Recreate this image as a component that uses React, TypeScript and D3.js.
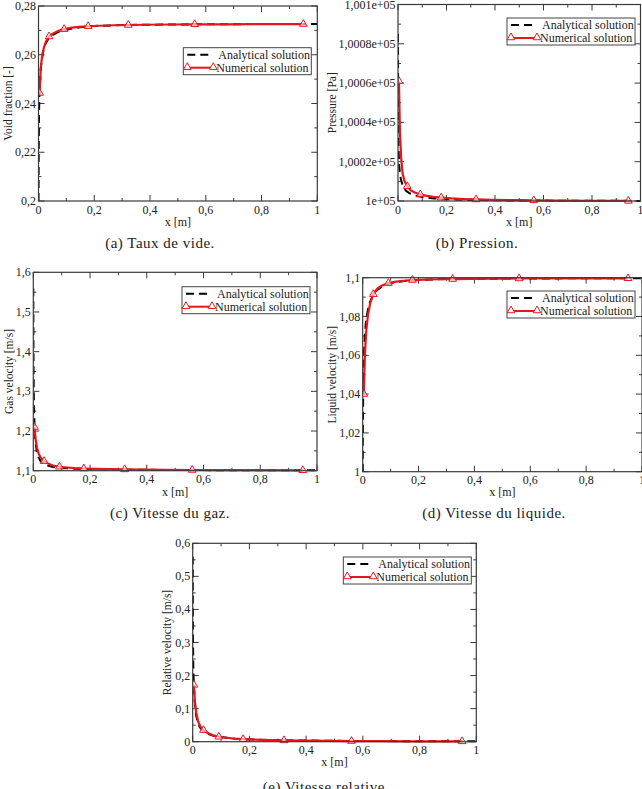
import React from 'react';
import * as d3 from 'd3';

// ---------- DATA ----------
const anaX = [0, 0.0005, 0.001, 0.002, 0.003, 0.005, 0.008, 0.012, 0.018, 0.025, 0.035, 0.05, 0.07, 0.1, 0.15, 0.2, 0.3, 0.45, 0.6, 0.8, 1.0];
const numX = [0.004, 0.008, 0.013, 0.019, 0.027, 0.038, 0.052, 0.069, 0.092, 0.12, 0.145, 0.178, 0.22, 0.27, 0.322, 0.39, 0.47, 0.56, 0.66, 0.78, 0.95];
const markerIdx = [0, 5, 8, 11, 14, 17, 20];

const voidAna = [0.2, 0.215, 0.224, 0.236, 0.242, 0.248, 0.254, 0.258, 0.262, 0.2645, 0.2665, 0.268, 0.2693, 0.2703, 0.2713, 0.2718, 0.2722, 0.2724, 0.2725, 0.2726, 0.2726];
const voidNum = [0.2443, 0.2545, 0.2595, 0.2628, 0.2655, 0.2675, 0.2687, 0.2697, 0.2705, 0.2711, 0.2714, 0.2717, 0.2719, 0.2721, 0.2722, 0.2723, 0.2724, 0.2725, 0.2725, 0.2726, 0.2726];

const presAna = [100085, 100055, 100042, 100030, 100024, 100018, 100014, 100011, 100008.5, 100006.5, 100005, 100003.8, 100002.8, 100002, 100001.3, 100000.9, 100000.5, 100000.3, 100000.2, 100000.1, 100000.05];
const presNum = [100061, 100035, 100022, 100014, 100010, 100007.5, 100005.5, 100004.3, 100003.3, 100002.6, 100002.1, 100001.7, 100001.3, 100001.0, 100000.8, 100000.6, 100000.4, 100000.3, 100000.2, 100000.1, 100000.05];

const gasAna = [1.56, 1.42, 1.35, 1.28, 1.245, 1.2, 1.17, 1.15, 1.135, 1.125, 1.118, 1.113, 1.109, 1.107, 1.105, 1.104, 1.1025, 1.102, 1.1015, 1.101, 1.101];
const gasNum = [1.21, 1.18, 1.158, 1.143, 1.132, 1.124, 1.118, 1.113, 1.11, 1.108, 1.1065, 1.1055, 1.1045, 1.1038, 1.1032, 1.1027, 1.1022, 1.1018, 1.1015, 1.1013, 1.101];

const liqAna = [1.0, 1.018, 1.028, 1.042, 1.052, 1.062, 1.071, 1.078, 1.083, 1.087, 1.0905, 1.0935, 1.0955, 1.0972, 1.0983, 1.0988, 1.0993, 1.0995, 1.0996, 1.0997, 1.0997];
const liqNum = [1.04, 1.061, 1.073, 1.081, 1.087, 1.0915, 1.0943, 1.096, 1.0972, 1.098, 1.0984, 1.0988, 1.099, 1.0992, 1.0993, 1.0994, 1.0995, 1.0996, 1.0996, 1.0997, 1.0997];

const relAna = [0.56, 0.4, 0.32, 0.24, 0.2, 0.15, 0.11, 0.08, 0.058, 0.044, 0.034, 0.025, 0.019, 0.014, 0.009, 0.007, 0.0045, 0.003, 0.002, 0.0015, 0.001];
const relNum = [0.172, 0.12, 0.085, 0.062, 0.046, 0.035, 0.027, 0.02, 0.015, 0.012, 0.0095, 0.0075, 0.006, 0.0048, 0.004, 0.0032, 0.0025, 0.002, 0.0016, 0.0012, 0.001];

const xTicks = [0, 0.2, 0.4, 0.6, 0.8, 1];
const xTickLabels = ['0', '0,2', '0,4', '0,6', '0,8', '1'];

const voidTicks = [0.2, 0.22, 0.24, 0.26, 0.28];
const voidLabels = ['0,2', '0,22', '0,24', '0,26', '0,28'];
const presTicks = [100000, 100020, 100040, 100060, 100080, 100100];
const presLabels = ['1e+05', '1,0002e+05', '1,0004e+05', '1,0006e+05', '1,0008e+05', '1,001e+05'];
const gasTicks = [1.1, 1.2, 1.3, 1.4, 1.5, 1.6];
const gasLabels = ['1,1', '1,2', '1,3', '1,4', '1,5', '1,6'];
const liqTicks = [1.0, 1.02, 1.04, 1.06, 1.08, 1.1];
const liqLabels = ['1', '1,02', '1,04', '1,06', '1,08', '1,1'];
const relTicks = [0, 0.1, 0.2, 0.3, 0.4, 0.5, 0.6];
const relLabels = ['0', '0,1', '0,2', '0,3', '0,4', '0,5', '0,6'];

const legendLabels = ['Analytical solution', 'Numerical solution'];

// ---------- LAYOUT ----------
const RED = '#e8161c';
const FONT = '"Liberation Serif", "Times New Roman", serif';

type Cfg = {
  left: number; right: number; top: number; bottom: number;
  yTicks: number[]; yLabels: string[];
  ana: number[]; num: number[];
  title: string; titleX: number;
  legTop: number; legRightGap: number;
  caption: string; captionX: number; captionY: number;
  xLabelY: number;
};

const panels: Cfg[] = [
  { left: 38.5, right: 317.3, top: 6, bottom: 201, yTicks: voidTicks, yLabels: voidLabels, ana: voidAna, num: voidNum,
    title: 'Void fraction [-]', titleX: 7.5, legTop: 47.7, legRightGap: 6, caption: '(a)  Taux de vide.', captionX: 160, captionY: 248, xLabelY: 225.5 },
  { left: 398, right: 640.5, top: 4.5, bottom: 201, yTicks: presTicks, yLabels: presLabels, ana: presAna, num: presNum,
    title: 'Pressure [Pa]', titleX: 331.5, legTop: 18, legRightGap: 5.5, caption: '(b)  Pression.', captionX: 477, captionY: 248, xLabelY: 226 },
  { left: 33.3, right: 317, top: 272.3, bottom: 470.7, yTicks: gasTicks, yLabels: gasLabels, ana: gasAna, num: gasNum,
    title: 'Gas velocity [m/s]', titleX: 8.7, legTop: 286.7, legRightGap: 7, caption: '(c)  Vitesse du gaz.', captionX: 170, captionY: 518, xLabelY: 496 },
  { left: 362.7, right: 642, top: 277.7, bottom: 471.7, yTicks: liqTicks, yLabels: liqLabels, ana: liqAna, num: liqNum,
    title: 'Liquid velocity [m/s]', titleX: 332, legTop: 291, legRightGap: 7, caption: '(d)  Vitesse du liquide.', captionX: 494, captionY: 518, xLabelY: 496 },
  { left: 192.7, right: 476.3, top: 543.3, bottom: 741.7, yTicks: relTicks, yLabels: relLabels, ana: relAna, num: relNum,
    title: 'Relative velocity [m/s]', titleX: 167, legTop: 557, legRightGap: 5, caption: '(e)  Vitesse relative.', captionX: 326, captionY: 791.5, xLabelY: 766 },
];

function Panel({ c, id }: { c: Cfg; id: number }) {
  const x = d3.scaleLinear().domain([0, 1]).range([c.left, c.right]);
  const y = d3.scaleLinear().domain([c.yTicks[0], c.yTicks[c.yTicks.length - 1]]).range([c.bottom, c.top]);
  const line = d3.line<[number, number]>().x(d => x(d[0])).y(d => y(d[1]));
  const anaPts = anaX.map((v, i) => [v, c.ana[i]] as [number, number]);
  const numPts = numX.map((v, i) => [v, c.num[i]] as [number, number]);
  const tri = d3.symbol(d3.symbolTriangle, 26)() as string;
  const xMinor = xTicks.slice(0, -1).map((v, i) => (v + xTicks[i + 1]) / 2);
  const yMinor = c.yTicks.slice(0, -1).map((v, i) => (v + c.yTicks[i + 1]) / 2);
  const MJ = 6, MN = 3;
  const frame = '#3a3a3a';
  const legW = 128, legH = 27;
  const legR = c.right - c.legRightGap;
  const legL = legR - legW;
  return (
    <g>
      <defs>
        <clipPath id={`clip${id}`}>
          <rect x={c.left} y={c.top - 4} width={c.right - c.left + 4} height={c.bottom - c.top + 8} />
        </clipPath>
      </defs>
      {/* ticks */}
      <g stroke={frame} strokeWidth={1}>
        {xTicks.map((t, i) => (
          <g key={`xt${i}`}>
            <line x1={x(t)} x2={x(t)} y1={c.bottom} y2={c.bottom - MJ} />
            <line x1={x(t)} x2={x(t)} y1={c.top} y2={c.top + MJ} />
          </g>
        ))}
        {xMinor.map((t, i) => (
          <g key={`xm${i}`}>
            <line x1={x(t)} x2={x(t)} y1={c.bottom} y2={c.bottom - MN} />
            <line x1={x(t)} x2={x(t)} y1={c.top} y2={c.top + MN} />
          </g>
        ))}
        {c.yTicks.map((t, i) => (
          <g key={`yt${i}`}>
            <line x1={c.left} x2={c.left + MJ} y1={y(t)} y2={y(t)} />
            <line x1={c.right} x2={c.right - MJ} y1={y(t)} y2={y(t)} />
          </g>
        ))}
        {yMinor.map((t, i) => (
          <g key={`ym${i}`}>
            <line x1={c.left} x2={c.left + MN} y1={y(t)} y2={y(t)} />
            <line x1={c.right} x2={c.right - MN} y1={y(t)} y2={y(t)} />
          </g>
        ))}
      </g>
      {/* curves */}
      <g clipPath={`url(#clip${id})`}>
        <path d={line(anaPts) as string} fill="none" stroke="#000" strokeWidth={2} strokeDasharray="8,5" />
        <path d={line(numPts) as string} fill="none" stroke={RED} strokeWidth={2.2} strokeLinejoin="round" />
        {markerIdx.map(i => (
          <path key={`m${i}`} d={tri} transform={`translate(${x(numPts[i][0])},${y(numPts[i][1])})`} fill="#fff" fillOpacity={0.6} stroke={RED} strokeWidth={1} />
        ))}
      </g>
      <rect x={c.left} y={c.top} width={c.right - c.left} height={c.bottom - c.top} fill="none" stroke={frame} strokeWidth={1.2} />
      {/* tick labels */}
      <g fontFamily={FONT} fontSize={12} fill="#222">
        {xTicks.map((t, i) => (
          <text key={`xl${i}`} x={x(t)} y={c.bottom + 12.5} textAnchor="middle">{xTickLabels[i]}</text>
        ))}
        {c.yTicks.map((t, i) => (
          <text key={`yl${i}`} x={c.left - 2.5} y={y(t) + 4} textAnchor="end">{c.yLabels[i]}</text>
        ))}
        <text x={(c.left + c.right) / 2} y={c.xLabelY} textAnchor="middle">x [m]</text>
        <text transform={`translate(${c.titleX},${(c.top + c.bottom) / 2}) rotate(-90)`} textAnchor="middle" dominantBaseline="central" fontSize={11.5}>{c.title}</text>
      </g>
      {/* legend */}
      <g fontFamily={FONT} fontSize={12}>
        <rect x={legL} y={c.legTop} width={legW} height={legH} fill="#fff" stroke="#444" strokeWidth={1} />
        <line x1={legL + 4} x2={legL + 30} y1={c.legTop + 7} y2={c.legTop + 7} stroke="#000" strokeWidth={2} strokeDasharray="8,5" />
        <text x={legL + 35} y={c.legTop + 11} fill="#222">{legendLabels[0]}</text>
        <line x1={legL + 4} x2={legL + 30} y1={c.legTop + 20} y2={c.legTop + 20} stroke={RED} strokeWidth={2} />
        {[legL + 4, legL + 30].map((px, i) => (
          <path key={`lt${i}`} d={tri} transform={`translate(${px},${c.legTop + 19.5})`} fill="#fff" stroke={RED} strokeWidth={1} />
        ))}
        <text x={legL + 33} y={c.legTop + 24} fill="#222">{legendLabels[1]}</text>
      </g>
      {/* caption */}
      <text x={c.captionX} y={c.captionY} textAnchor="middle" fontFamily={FONT} fontSize={15} letterSpacing={0.5} fill="#222">{c.caption}</text>
    </g>
  );
}

export default function App() {
  return (
    <svg width={642} height={789} style={{ position: 'absolute', left: 0, top: 0, background: '#fff' }}>
      <rect width={642} height={789} fill="#fff" />
      {panels.map((c, i) => <Panel key={i} c={c} id={i} />)}
    </svg>
  );
}
